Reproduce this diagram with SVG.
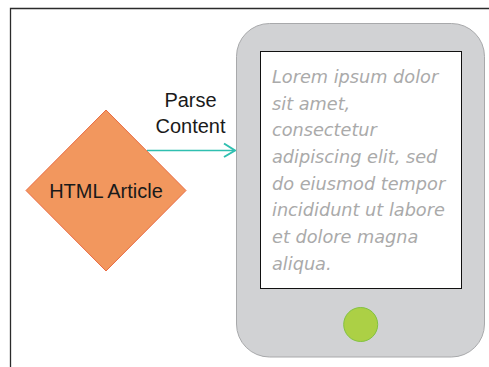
<svg xmlns="http://www.w3.org/2000/svg" width="489" height="367" viewBox="0 0 489 367">
<style>
.label{font-family:"Liberation Sans",Arial,sans-serif;font-size:20px;fill:#1a1a1a;text-anchor:middle}
.hand{font-family:"DejaVu Sans",sans-serif;font-style:italic;font-size:17.700px;fill:#aaa}
</style>
<rect width="489" height="367" fill="#fff"/>
<path d="M10.500 367V8.500H489" fill="none" stroke="#2b2b2b" stroke-width="1.300"/>
<g id="connectors">
<path d="M147 150.500H235" fill="none" stroke="#2fbfb0" stroke-width="1.500"/>
<path d="M224 143.500L235 150.500L224 157" fill="none" stroke="#2fbfb0" stroke-width="2"/>
</g>
<g id="html-article">
<polygon points="106,110 186,190.500 106,271 26,190.500" fill="#f2975e" stroke="#ea6a42" stroke-width="1"/>
<text class="label" x="106" y="198">HTML Article</text>
</g>
<g id="parse-content">
<text class="label" x="190.500" y="107">Parse</text>
<text class="label" x="190.500" y="133">Content</text>
</g>
<g id="phone">
<rect x="236.500" y="23.500" width="248" height="333.500" rx="33" fill="#d1d2d4" stroke="#a8a9ab" stroke-width="1"/>
<rect x="260.500" y="51.500" width="201" height="237" fill="#fff" stroke="#111" stroke-width="1"/>
<circle cx="360.700" cy="324.500" r="17" fill="#acd045" stroke="#82c341" stroke-width="1"/>
<text class="hand" x="272" y="83">Lorem ipsum dolor</text>
<text class="hand" x="272" y="110">sit amet,</text>
<text class="hand" x="272" y="136">consectetur</text>
<text class="hand" x="272" y="163">adipiscing elit, sed</text>
<text class="hand" x="272" y="190">do eiusmod tempor</text>
<text class="hand" x="272" y="216">incididunt ut labore</text>
<text class="hand" x="272" y="243">et dolore magna</text>
<text class="hand" x="272" y="270">aliqua.</text>
</g>
</svg>
